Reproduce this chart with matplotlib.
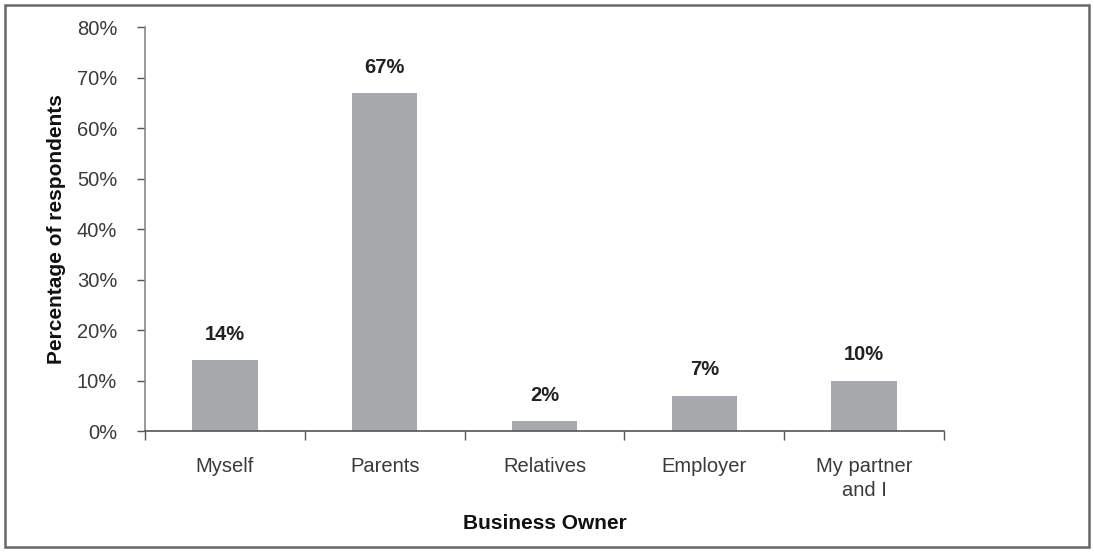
import matplotlib.pyplot as plt
from matplotlib.patches import Rectangle
from matplotlib.ticker import FuncFormatter

categories = ["Myself", "Parents", "Relatives", "Employer", "My partner\nand I"]
values = [14, 67, 2, 7, 10]
yticks = [0, 10, 20, 30, 40, 50, 60, 70, 80]

BAR_COLOR = "#a7a8ab"
TEXT_COLOR = "#3a3a3a"
AXIS_COLOR = "#555555"


def main():
    plt.rcParams["font.family"] = ["Liberation Sans", "DejaVu Sans"]
    fig = plt.figure(figsize=(10.94, 5.52), dpi=100)
    ax = fig.add_axes([0.1325, 0.2192, 0.7305, 0.7318])

    x = list(range(len(categories)))
    ax.bar(x, values, width=0.41, color=BAR_COLOR, zorder=2)
    for xi, v in zip(x, values):
        ax.text(xi, v + 3.2, f"{v}%", ha="center", va="bottom",
                fontsize=14.5, fontweight="bold", color="#222222")

    ax.set_xlim(-0.5, len(categories) - 0.5)
    ax.set_ylim(0, 80)
    ax.set_yticks(yticks)
    ax.yaxis.set_major_formatter(FuncFormatter(lambda v, p: f"{v:.0f}%"))

    # category labels sit between the boundary ticks
    ax.set_xticks(x)
    ax.set_xticklabels(categories, fontsize=14.5, color=TEXT_COLOR,
                       linespacing=1.35)
    ax.set_xticks([i - 0.5 for i in range(len(categories) + 1)], minor=True)
    ax.tick_params(axis="x", which="major", length=0, pad=18.5)
    ax.tick_params(axis="x", which="minor", length=6.5, width=1,
                   color=AXIS_COLOR, direction="out")
    ax.tick_params(axis="y", length=6, width=1, color=AXIS_COLOR,
                   labelsize=14.5, labelcolor=TEXT_COLOR, pad=14)

    for side in ["top", "right"]:
        ax.spines[side].set_visible(False)
    ax.spines["left"].set_color("#888888")
    ax.spines["bottom"].set_color(AXIS_COLOR)
    ax.spines["left"].set_linewidth(1.2)
    ax.spines["bottom"].set_linewidth(1.2)

    ax.set_ylabel("Percentage of respondents", fontsize=15,
                  fontweight="bold", color="#111111", labelpad=8)
    ax.set_xlabel("Business Owner", fontsize=15, fontweight="bold",
                  color="#111111", labelpad=10)

    # outer frame around the whole figure
    fig.patches.append(Rectangle((0.0046, 0.009), 0.9909, 0.982,
                                 transform=fig.transFigure, fill=False,
                                 edgecolor="#666666", linewidth=1.8))

    fig.savefig("out.png", dpi=100)
    plt.close(fig)


if __name__ == "__main__":
    main()
